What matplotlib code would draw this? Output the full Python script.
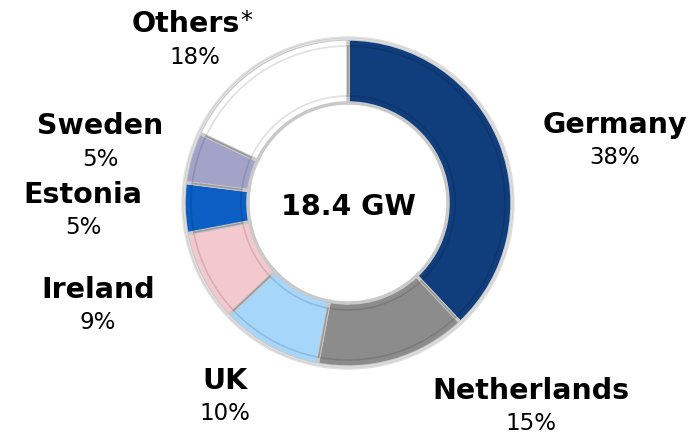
import matplotlib
matplotlib.use("Agg")
import matplotlib.pyplot as plt

# data
countries = ["Germany", "Netherlands", "UK", "Ireland", "Estonia", "Sweden", "Others"]
shares = [38, 15, 10, 9, 5, 5, 18]
total_label = "18.4 GW"

colors = ["#103d7c", "#8c8c8c", "#a6d6fa", "#f4c8cf", "#0a5ec4", "#a3a3c9", "#ffffff"]
# label anchor points in pixels (x, y from top)
label_pos = {
    "Germany": (615, 125),
    "Netherlands": (531, 391),
    "UK": (225, 381),
    "Ireland": (98, 290),
    "Estonia": (83, 195),
    "Sweden": (100, 126),
    "Others": (186, 24),
}

W, H = 700, 435
fig = plt.figure(figsize=(7, 4.35), dpi=100)
ax = fig.add_axes([0, 0, 1, 1])

cx, cy, r = 348, H - 204, 164
ax.pie(
    shares, colors=colors, startangle=90, counterclock=False,
    center=(cx, cy), radius=r, frame=True,
    wedgeprops=dict(width=r * 0.39, edgecolor="#c9c9c9", linewidth=2.5),
)
# soft inner bevel line
ax.pie(
    shares, colors=["none"] * len(shares), startangle=90, counterclock=False,
    center=(cx, cy), radius=r - 7, frame=True,
    wedgeprops=dict(width=r * 0.39 - 14, edgecolor=(0, 0, 0, 0.12), linewidth=1.2),
)
# thin outer ring
ax.pie(
    shares, colors=["none"] * len(shares), startangle=90, counterclock=False,
    center=(cx, cy), radius=r + 2, frame=True,
    wedgeprops=dict(width=2, edgecolor="#e0e0e0", linewidth=1),
)
ax.set_xlim(0, W)
ax.set_ylim(0, H)
ax.set_aspect("equal")
ax.axis("off")

for name, val in zip(countries, shares):
    x, y = label_pos[name]
    t = ax.text(x, H - y, name, ha="center", va="center", fontsize=20.5,
                fontweight="bold", color="black")
    dx = 0
    if name == "Others":
        ax.annotate("*", xy=(1, 0.62), xycoords=t, ha="left", va="center",
                    fontsize=17, color="black")
        dx = 9
    ax.text(x + dx, H - y - 33, f"{val}%", ha="center", va="center",
            fontsize=16.5, color="black")

ax.text(cx, cy - 3, total_label, ha="center", va="center", fontsize=20.5,
        fontweight="bold", color="black")

fig.savefig("out.png", dpi=100)
